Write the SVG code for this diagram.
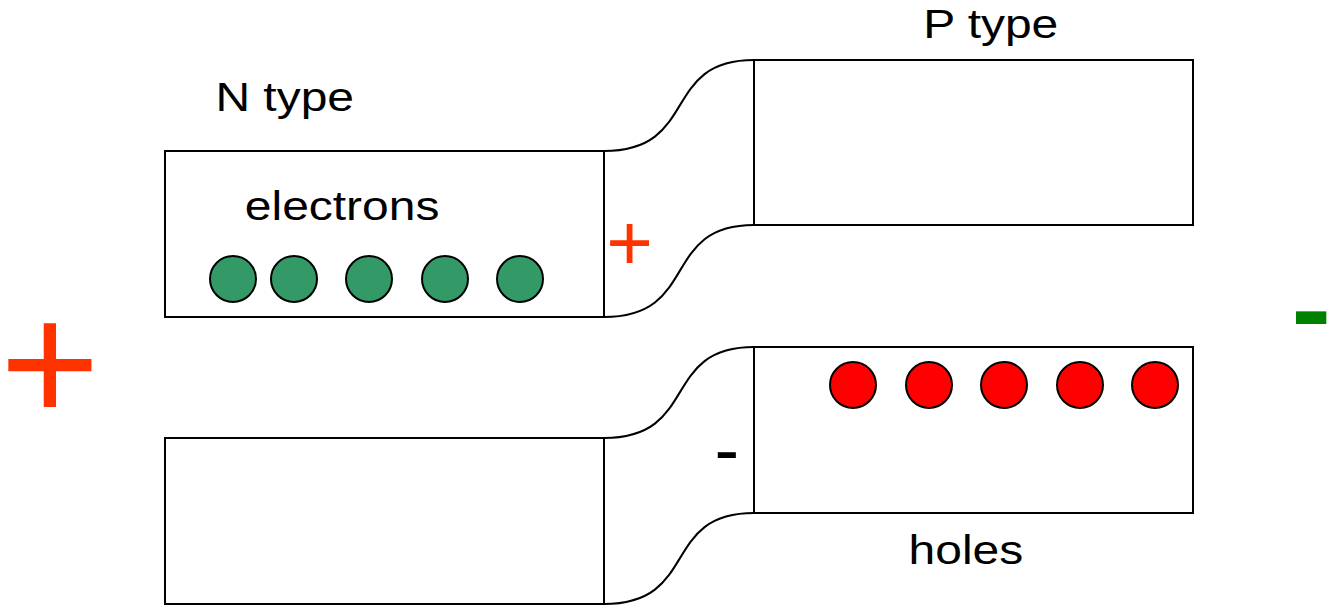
<svg xmlns="http://www.w3.org/2000/svg" width="1332" height="606" viewBox="0 0 1332 606">
  <style>
    .block { fill: #ffffff; stroke: #000000; stroke-width: 2; }
    .link { fill: none; stroke: #000000; stroke-width: 2; }
    .label { font-family: "Liberation Sans", Arial, sans-serif; font-size: 41px; fill: #000000; }
    .sign { font-family: "Liberation Sans", Arial, sans-serif; }
    .electron { fill: #339966; stroke: #000000; stroke-width: 2; }
    .hole { fill: #ff0000; stroke: #000000; stroke-width: 2; }
  </style>
  <rect width="1332" height="606" fill="#ffffff"/>

  <!-- S-shaped walls joining the N and P blocks -->
  <g id="connectors">
    <path class="link" d="M604,151 C700,151 660,60 754,60"/>
    <path class="link" d="M604,317 C700,317 660,225 754,225"/>
    <path class="link" d="M604,438 C700,438 660,347 754,347"/>
    <path class="link" d="M604,604 C700,604 660,513 754,513"/>
  </g>

  <!-- upper N-type block with electrons -->
  <g id="n-top">
    <rect class="block" x="165" y="151" width="439" height="166"/>
    <text class="label" transform="translate(215.4,111) scale(1.17,1)">N type</text>
    <text class="label" transform="translate(244.8,220) scale(1.17,1)">electrons</text>
    <circle class="electron" cx="233" cy="279" r="23"/>
    <circle class="electron" cx="294" cy="279" r="23"/>
    <circle class="electron" cx="369" cy="279" r="23"/>
    <circle class="electron" cx="445" cy="279" r="23"/>
    <circle class="electron" cx="520" cy="279" r="23"/>
  </g>

  <!-- upper P-type block -->
  <g id="p-top">
    <rect class="block" x="754" y="60" width="439" height="165"/>
    <text class="label" transform="translate(923.2,37.5) scale(1.17,1)">P type</text>
  </g>

  <!-- lower N-type block -->
  <g id="n-bottom">
    <rect class="block" x="165" y="438" width="439" height="166"/>
  </g>

  <!-- lower P-type block with holes -->
  <g id="p-bottom">
    <rect class="block" x="754" y="347" width="439" height="166"/>
    <circle class="hole" cx="853" cy="385" r="23"/>
    <circle class="hole" cx="929" cy="385" r="23"/>
    <circle class="hole" cx="1004" cy="385" r="23"/>
    <circle class="hole" cx="1080" cy="385" r="23"/>
    <circle class="hole" cx="1155" cy="385" r="23"/>
    <text class="label" transform="translate(908.6,563.5) scale(1.17,1)">holes</text>
  </g>

  <!-- junction charges -->
  <g id="junction-charges">
    <text class="sign" x="606.3" y="270" font-size="80" fill="#ff3300">+</text>
    <text class="sign" x="714.6" y="474.8" font-size="74" fill="#000000">-</text>
  </g>

  <!-- battery terminals -->
  <g id="terminals">
    <text class="sign" x="0" y="421.5" font-size="171" fill="#ff3300">+</text>
    <text class="sign" font-size="161" fill="#008000" transform="translate(1290.5,361.2) scale(0.77,1)">-</text>
  </g>
</svg>
